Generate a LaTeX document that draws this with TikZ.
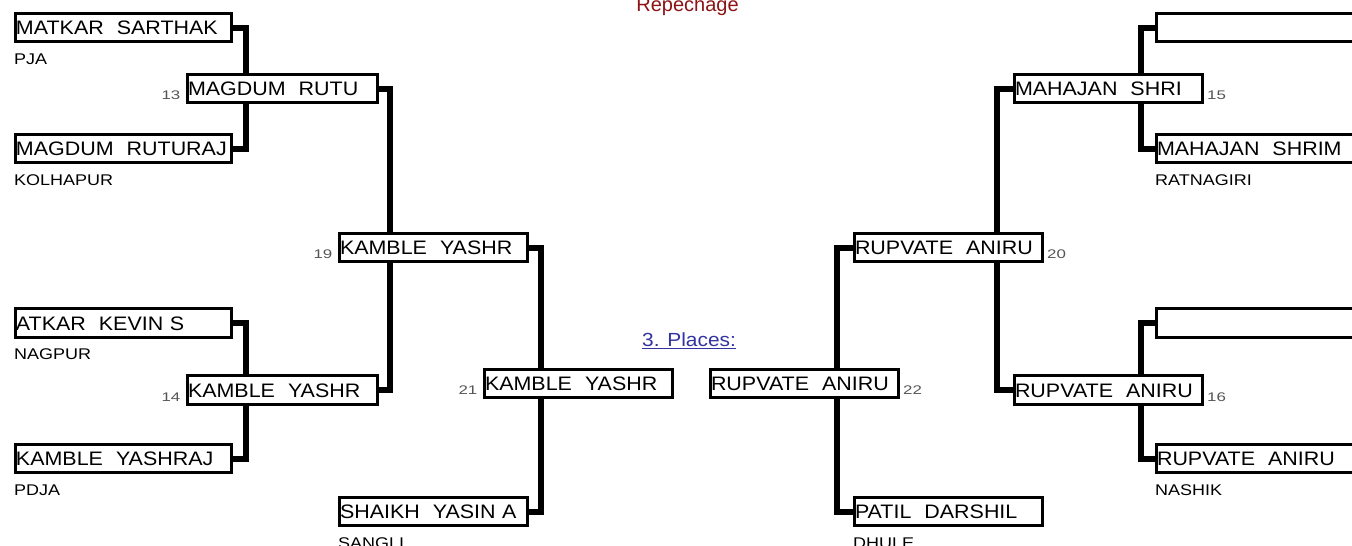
\documentclass[tikz,border=0pt]{standalone}
\usepackage{fontspec}
\usepackage{xcolor}
\setmainfont{Liberation Sans}
\newfontfamily\namefont[FakeStretch=1.1]{Liberation Sans}
\newfontfamily\clubfont[FakeStretch=1.16]{Liberation Sans}
\newfontfamily\numfont[FakeStretch=1.35]{Liberation Sans}
\usetikzlibrary{positioning, calc}
\definecolor{repcol}{RGB}{140,20,20}
\definecolor{plcol}{RGB}{51,51,160}
\definecolor{numcol}{RGB}{85,85,85}
\tikzset{
    wbox/.style = {draw, fill=white, line width=3pt, anchor=west, text width=#1,
        align=left, minimum height=28.5pt, text height=14pt, text depth=0pt,
        inner xsep=1pt, inner ysep=0pt, font=\namefont\fontsize{19.5}{21}\selectfont},
    club/.style = {anchor=base west, inner sep=0pt, font=\clubfont\fontsize{15.5}{17}\selectfont},
    num/.style = {inner sep=0pt, text=numcol, font=\numfont\fontsize{12.5}{14}\selectfont},
    conn/.style = {line width=6pt, black}
}

\begin{document}
\begin{tikzpicture}[x=1pt, y=-1pt]
    \clip (0,0) rectangle (1352,546);

    % left half
    \node[wbox=214pt] (a1) at (13.5,27.5) {MATKAR~~SARTHAK};
    \node[wbox=214pt] (a2) at (13.5,148.5) {MAGDUM~~RUTURAJ};
    \node[wbox=214pt] (a3) at (13.5,323) {ATKAR~~KEVIN S};
    \node[wbox=214pt] (a4) at (13.5,458.5) {KAMBLE~~YASHRAJ};
    \node[wbox=188pt] (b13) at (185.5,88.5) {MAGDUM~~RUTU};
    \node[wbox=188pt] (b14) at (185.5,390) {KAMBLE~~YASHR};
    \node[wbox=186pt] (c19) at (337.5,247.5) {KAMBLE~~YASHR};
    \node[wbox=186pt] (c21) at (482.5,383.5) {KAMBLE~~YASHR};
    \node[wbox=186pt] (s1) at (337.5,511.5) {SHAIKH~~YASIN A};

    % right half
    \node[wbox=186pt] (d22) at (708.5,383.5) {RUPVATE~~ANIRU};
    \node[wbox=186pt] (p1) at (852.5,511.5) {PATIL~~DARSHIL};
    \node[wbox=186pt] (d20) at (852.5,247.5) {RUPVATE~~ANIRU};
    \node[wbox=186pt] (e15) at (1012.5,88.5) {MAHAJAN~~SHRI};
    \node[wbox=186pt] (e16) at (1012.5,390) {RUPVATE~~ANIRU};
    \node[wbox=214pt] (f1) at (1154.5,27.5) {};
    \node[wbox=214pt] (f2) at (1154.5,148.5) {MAHAJAN~~SHRIM};
    \node[wbox=214pt] (f3) at (1154.5,323) {};
    \node[wbox=214pt] (f4) at (1154.5,458.5) {RUPVATE~~ANIRU};

    % clubs
    \foreach \b/\c in {a1/PJA, a2/KOLHAPUR, a3/NAGPUR, a4/PDJA, s1/SANGLI, p1/DHULE, f2/RATNAGIRI, f4/NASHIK}{
        \node[club] (\b c) at ([shift={(0.5,21)}]\b.south west) {\c};
    }

    % bout numbers
    \foreach \b/\n in {b13/13, b14/14, c19/19, c21/21}{
        \node[num, anchor=base east] (n\n) at ([shift={(-5,-4.5)}]\b.south west) {\n};
    }
    \foreach \b/\n in {d22/22, d20/20, e15/15, e16/16}{
        \node[num, anchor=base west] (n\n) at ([shift={(3.5,-4.5)}]\b.south east) {\n};
    }

    % vertical lines
    \coordinate (v1) at (246,0);
    \coordinate (v2) at (390,0);
    \coordinate (v3) at (541,0);
    \coordinate (v4) at (837,0);
    \coordinate (v5) at (997,0);
    \coordinate (v6) at (1141,0);

    \draw[conn] (a1.east) -| (b13.north -| v1);
    \draw[conn] (a2.east) -| (b13.south -| v1);
    \draw[conn] (a3.east) -| (b14.north -| v1);
    \draw[conn] (a4.east) -| (b14.south -| v1);
    \draw[conn] (b13.east) -| (c19.north -| v2);
    \draw[conn] (b14.east) -| (c19.south -| v2);
    \draw[conn] (c19.east) -| (c21.north -| v3);
    \draw[conn] (s1.east) -| (c21.south -| v3);
    \draw[conn] (d20.west) -| (d22.north -| v4);
    \draw[conn] (p1.west) -| (d22.south -| v4);
    \draw[conn] (e15.west) -| (d20.north -| v5);
    \draw[conn] (e16.west) -| (d20.south -| v5);
    \draw[conn] (f1.west) -| (e15.north -| v6);
    \draw[conn] (f2.west) -| (e15.south -| v6);
    \draw[conn] (f3.west) -| (e16.north -| v6);
    \draw[conn] (f4.west) -| (e16.south -| v6);

    % headings
    \node[anchor=base, inner sep=0pt, text=repcol, font=\fontsize{20}{22}\selectfont] (rep) at (687.5,12) {Repechage};
    \node[anchor=base west, inner sep=0pt, text=plcol, font=\namefont\fontsize{19}{20}\selectfont] (pl) at (642,346) {3. Places:};
    \draw[plcol, line width=1.2pt] ([yshift=-2.5pt]pl.base west) -- ([yshift=-2.5pt]pl.base east);
\end{tikzpicture}
\end{document}
